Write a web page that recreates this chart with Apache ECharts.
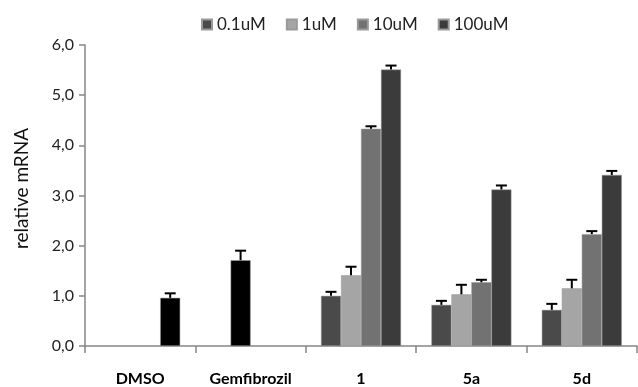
<!DOCTYPE html>
<html>
<head>
<meta charset="utf-8">
<script src="https://cdn.jsdelivr.net/npm/echarts@6/dist/echarts.min.js"></script>
<style>
  html, body { margin: 0; padding: 0; background: #fff; }
  #chart { width: 638px; height: 387px; }
</style>
</head>
<body>
<div id="chart"></div>
<script>
// categories and series
var categories = ["DMSO", "Gemfibrozil", "1", "5a", "5d"];
var seriesNames = ["0.1uM", "1uM", "10uM", "100uM"];
var seriesColors = ["#4a4a4a", "#a5a5a5", "#727272", "#3b3b3b"];

// mean values (null = no bar in that slot)
var val01 = [null, null, 1.00, 0.82, 0.72];
var val1 = [null, 1.71, 1.41, 1.03, 1.15];
var val10 = [null, null, 4.33, 1.27, 2.23];
var val100 = [0.96, null, 5.51, 3.12, 3.41];

// upper error (SD)
var err01 = [null, null, 0.08, 0.08, 0.12];
var err1 = [null, 0.19, 0.17, 0.19, 0.17];
var err10 = [null, null, 0.05, 0.05, 0.06];
var err100 = [0.09, null, 0.08, 0.08, 0.08];

// reference bars drawn black
var controlCats = ["DMSO", "Gemfibrozil"];

var values = [val01, val1, val10, val100];
var errors = [err01, err1, err10, err100];
var BAR_W = 20;

var chart = echarts.init(document.getElementById("chart"));
var fontFamily = "Lato, 'Open Sans', sans-serif";

var barSeries = seriesNames.map(function (name, s) {
  return {
    name: name,
    type: "bar",
    barWidth: BAR_W,
    barGap: "0%",
    itemStyle: { color: seriesColors[s], borderColor: "#9a9a9a", borderWidth: 0.5 },
    data: values[s].map(function (v, i) {
      if (v == null) return null;
      if (controlCats.indexOf(categories[i]) >= 0) {
        return { value: v, itemStyle: { color: "#000" } };
      }
      return v;
    })
  };
});

// error bar points: [categoryIndex, top, errTop, seriesIndex]
var errData = [];
values.forEach(function (arr, s) {
  arr.forEach(function (v, i) {
    if (v != null) errData.push([i, v, v + errors[s][i], s]);
  });
});

var errSeries = {
  type: "custom",
  name: "err",
  z: 5,
  renderItem: function (params, api) {
    var s = api.value(3);
    var off = (s - 1.5) * BAR_W;
    var p0 = api.coord([api.value(0), api.value(1)]);
    var p1 = api.coord([api.value(0), api.value(2)]);
    var x = p0[0] + off;
    var style = { stroke: "#000", lineWidth: 2 };
    return {
      type: "group",
      children: [
        { type: "line", shape: { x1: x, y1: p0[1], x2: x, y2: p1[1] }, style: style },
        { type: "line", shape: { x1: x - 5.5, y1: p1[1], x2: x + 5.5, y2: p1[1] }, style: style }
      ]
    };
  },
  data: errData
};

chart.setOption({
  animation: false,
  textStyle: { fontFamily: fontFamily },
  legend: {
    data: seriesNames,
    icon: "rect",
    top: 11,
    left: 196,
    itemWidth: 10,
    itemHeight: 10,
    itemGap: 20,
    textStyle: { fontSize: 17, color: "#222", fontFamily: fontFamily }
  },
  grid: { left: 85, right: 1, top: 45, bottom: 41 },
  xAxis: {
    type: "category",
    data: categories,
    axisLine: { lineStyle: { color: "#868686", width: 1.5 } },
    axisTick: { show: true, length: 7, lineStyle: { color: "#868686", width: 1.5 } },
    axisLabel: { fontSize: 16, fontWeight: "bold", color: "#000", margin: 25 }
  },
  yAxis: {
    type: "value",
    min: 0,
    max: 6,
    interval: 1,
    name: "relative mRNA",
    nameLocation: "middle",
    nameGap: 54,
    nameTextStyle: { fontSize: 19, color: "#111", padding: [0, 0, 0, 14] },
    splitLine: { show: false },
    axisLine: { show: true, lineStyle: { color: "#868686", width: 1.5 } },
    axisTick: { show: true, length: 6, lineStyle: { color: "#868686", width: 1.5 } },
    axisLabel: {
      fontSize: 16,
      color: "#222",
      margin: 11,
      formatter: function (v) { return v.toFixed(1).replace(".", ","); }
    }
  },
  series: barSeries.concat([errSeries])
});
</script>
</body>
</html>
